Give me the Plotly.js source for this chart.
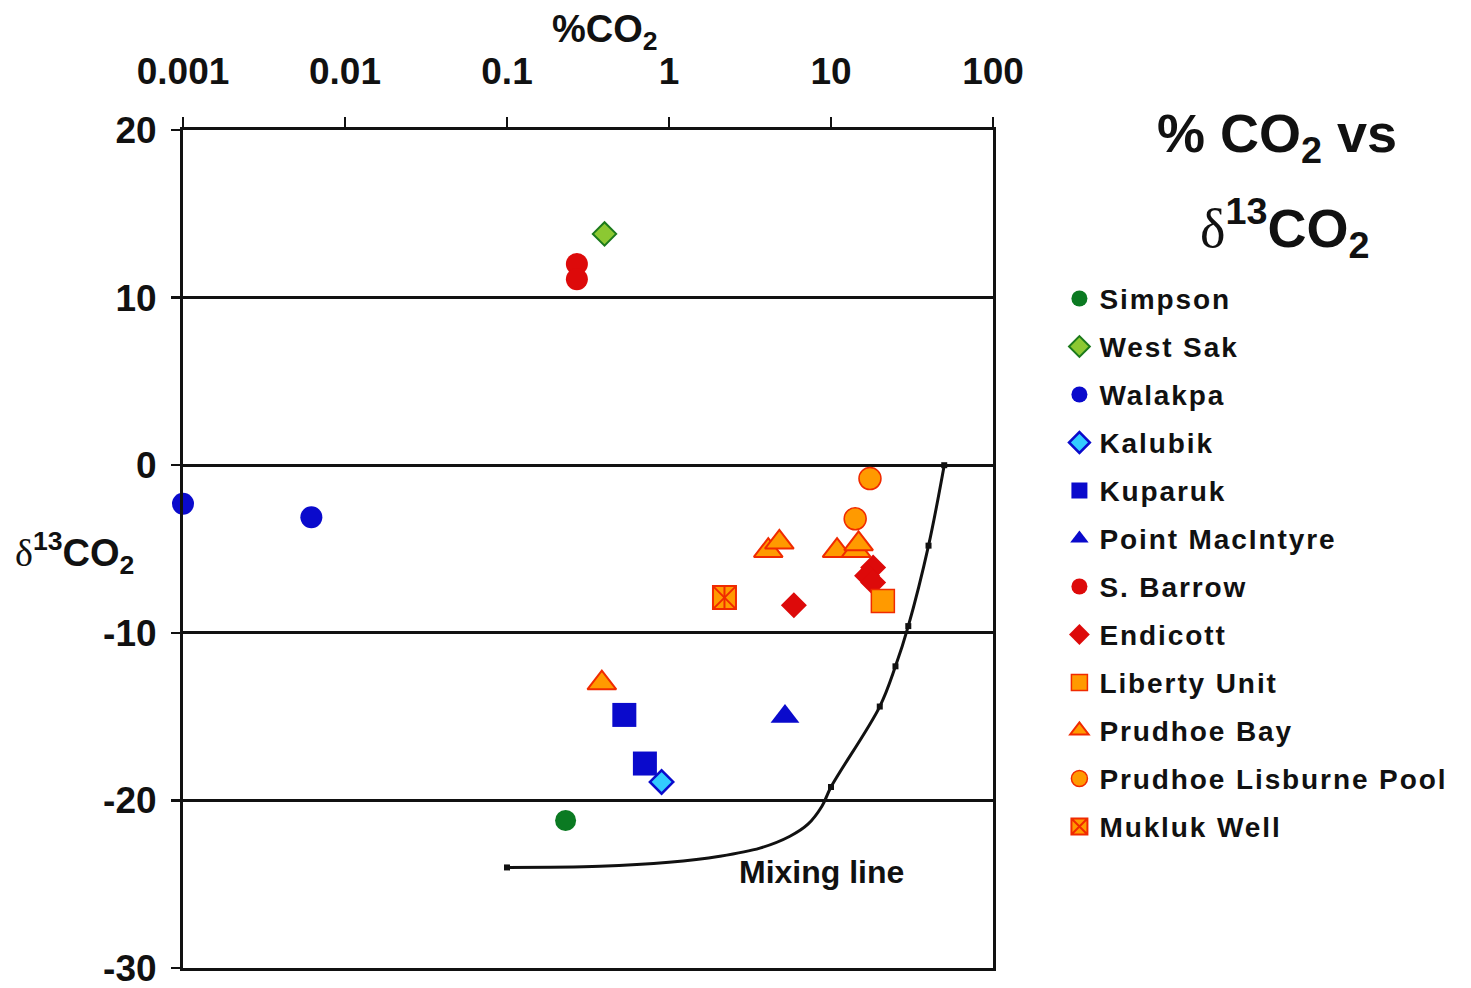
<!DOCTYPE html>
<html>
<head>
<meta charset="utf-8">
<script src="https://cdn.plot.ly/plotly-3.0.1.min.js"></script>
<style>
  html, body { margin: 0; padding: 0; background: #fff; }
  #chart { width: 1471px; height: 988px; }
  .legendtext { letter-spacing: 1.9px; }
</style>
</head>
<body>
<div id="chart"></div>
<script>
// %CO2 (log scale) against delta-13 CO2 for North Slope gas samples
const simpsonX = [0.23];            const simpsonY = [-21.2];
const westSakX = [0.40];            const westSakY = [13.8];
const walakpaX = [0.001, 0.0062];   const walakpaY = [-2.3, -3.1];
const kalubikX = [0.90];            const kalubikY = [-18.9];
const kuparukX = [0.53, 0.71];      const kuparukY = [-14.9, -17.8];
const pointMacX = [5.2];            const pointMacY = [-15.0];
const barrowX = [0.27, 0.27];       const barrowY = [12.0, 11.1];
const endicottX = [5.9, 18.2, 16.7, 18.2];
const endicottY = [-8.35, -6.1, -6.6, -7.0];
const libertyX = [20.9];            const libertyY = [-8.1];
const prudhoeBayX = [0.385, 4.1, 4.8, 10.9, 14.3, 14.8];
const prudhoeBayY = [-13.0, -5.1, -4.6, -5.1, -5.1, -4.7];
const lisburneX = [17.4, 14.1];     const lisburneY = [-0.8, -3.2];
const muklukX = [2.2];              const muklukY = [-7.9];

// mixing line: marked nodes and the drawn curve through them
const mixNodeX = [0.1, 10, 20, 25, 30, 40, 50];
const mixNodeY = [-24, -19.2, -14.4, -12, -9.6, -4.8, 0];
const mixCurveX = [0.1, 0.375, 1, 2.06, 3.64, 5.58, 7.21, 8.79, 10, 20, 25, 30, 40, 50];
const mixCurveY = [-24, -23.93, -23.69, -23.33, -22.85, -22.14, -21.42, -20.35, -19.2, -14.4, -12, -9.6, -4.8, 0];

const xTickVals = [0.001, 0.01, 0.1, 1, 10, 100];
const xTickText = ['0.001', '0.01', '0.1', '1', '10', '100'];
const yTickVals = [-30, -20, -10, 0, 10, 20];
const yTickText = ['-30', '-20', '-10', '0', '10', '20'];

const FONT = 'Liberation Sans, Arial, sans-serif';
const BLUE = '#0a0acc', RED = '#dd0a0a', ORANGE = '#ff9a00', ORLINE = '#f02a00';

function pts(name, x, y, marker, extra) {
  return Object.assign({
    type: 'scatter', mode: 'markers', name: name, x: x, y: y,
    legendgroup: name, marker: marker, cliponaxis: false
  }, extra || {});
}

const traces = [
  {
    type: 'scatter', mode: 'lines', x: mixCurveX, y: mixCurveY,
    line: { color: '#111', width: 3, shape: 'spline', smoothing: 1 },
    showlegend: false, hoverinfo: 'skip'
  },
  {
    type: 'scatter', mode: 'markers', x: mixNodeX, y: mixNodeY,
    marker: { symbol: 'square', size: 6, color: '#111' },
    showlegend: false, cliponaxis: false
  },
  pts('Simpson', simpsonX, simpsonY, { symbol: 'circle', size: 21, color: '#0b7a22', line: { width: 0 } }),
  pts('West Sak', westSakX, westSakY, { symbol: 'diamond', size: 18, color: '#8cc832', line: { color: '#1c7a1c', width: 2 } }),
  pts('Walakpa', walakpaX, walakpaY, { symbol: 'circle', size: 22, color: BLUE, line: { width: 0 } }),
  pts('Kalubik', kalubikX, kalubikY, { symbol: 'diamond', size: 18, color: '#33ccff', line: { color: BLUE, width: 2.5 } }),
  pts('Kuparuk', kuparukX, kuparukY, { symbol: 'square', size: 24, color: BLUE, line: { width: 0 } }),
  pts('Point MacIntyre', pointMacX, pointMacY, { symbol: 'triangle-up', size: 25, color: BLUE, line: { width: 0 } }),
  pts('S. Barrow', barrowX, barrowY, { symbol: 'circle', size: 22, color: RED, line: { width: 0 } }),
  pts('Endicott', endicottX, endicottY, { symbol: 'diamond', size: 20, color: RED, line: { width: 0 } }),
  pts('Liberty Unit', libertyX, libertyY, { symbol: 'square', size: 23, color: ORANGE, line: { color: ORLINE, width: 1.5 } }),
  pts('Prudhoe Bay', prudhoeBayX, prudhoeBayY, { symbol: 'triangle-up', size: 25, color: ORANGE, line: { color: ORLINE, width: 2 } }),
  pts('Prudhoe Lisburne Pool', lisburneX, lisburneY, { symbol: 'circle', size: 22, color: ORANGE, line: { color: ORLINE, width: 1.5 } }),
  pts('Mukluk Well', muklukX, muklukY, { symbol: 'square-x', size: 23, color: ORANGE, line: { color: ORLINE, width: 2 } }),
  pts('Mukluk Well', muklukX, muklukY, { symbol: 'line-ns-open', size: 16, color: ORLINE, line: { color: ORLINE, width: 2 } }, { showlegend: false })
];

const layout = {
  width: 1471, height: 988,
  paper_bgcolor: '#fff', plot_bgcolor: '#fff',
  margin: { l: 183, r: 478, t: 130, b: 20 },
  font: { family: FONT, color: '#111' },
  showlegend: true,
  legend: {
    x: 1.082, y: 0.8284, xanchor: 'left', yanchor: 'top',
    font: { family: FONT, size: 28, weight: 'bold', color: '#111' },
    traceorder: 'grouped', tracegroupgap: 8.6,
    bgcolor: 'rgba(0,0,0,0)', borderwidth: 0
  },
  xaxis: {
    type: 'log', range: [-3, 2], side: 'top',
    tickvals: xTickVals, ticktext: xTickText,
    ticks: 'outside', ticklen: 10, tickwidth: 2.5, tickcolor: '#111',
    ticklabelstandoff: 18, ticklabeloverflow: 'allow',
    tickfont: { family: FONT, size: 37, weight: 'bold', color: '#111' },
    showline: true, linewidth: 3, linecolor: '#111', mirror: true,
    showgrid: false, zeroline: false, fixedrange: true
  },
  yaxis: {
    range: [-30, 20], tickvals: yTickVals, ticktext: yTickText,
    ticks: 'outside', ticklen: 9, tickwidth: 2.5, tickcolor: '#111',
    ticklabelstandoff: 7, ticklabeloverflow: 'allow',
    tickfont: { family: FONT, size: 37, weight: 'bold', color: '#111' },
    showline: true, linewidth: 3, linecolor: '#111', mirror: true,
    showgrid: true, gridcolor: '#111', gridwidth: 3, zeroline: false, fixedrange: true
  },
  annotations: [
    { xref: 'paper', yref: 'paper', x: 0.521, y: 1.117, xanchor: 'center', yanchor: 'middle', showarrow: false,
      text: '%CO<sub>2</sub>', font: { family: FONT, size: 38, weight: 'bold', color: '#111' } },
    { xref: 'paper', yref: 'paper', x: -0.134, y: 0.495, xanchor: 'center', yanchor: 'middle', showarrow: false,
      text: '<span style="font-family:Liberation Serif;font-weight:normal">δ</span><sup>13</sup>CO<sub>2</sub>',
      font: { family: FONT, size: 38, weight: 'bold', color: '#111' } },
    { xref: 'paper', yref: 'paper', x: 1.3506, y: 0.9916, xanchor: 'center', yanchor: 'middle', showarrow: false,
      text: '% CO<sub>2</sub> vs', font: { family: FONT, size: 54, weight: 'bold', color: '#111' } },
    { xref: 'paper', yref: 'paper', x: 1.3605, y: 0.883, xanchor: 'center', yanchor: 'middle', showarrow: false,
      text: '<span style="font-family:Liberation Serif;font-weight:normal">δ</span><sup>13</sup>CO<sub>2</sub>',
      font: { family: FONT, size: 54, weight: 'bold', color: '#111' } },
    { xref: 'x', yref: 'y', x: 0.944, y: -24.3, xanchor: 'center', yanchor: 'middle', showarrow: false,
      text: 'Mixing line', font: { family: FONT, size: 32, weight: 'bold', color: '#111' } }
  ]
};

Plotly.newPlot('chart', traces, layout, { displayModeBar: false, staticPlot: true });
</script>
</body>
</html>
